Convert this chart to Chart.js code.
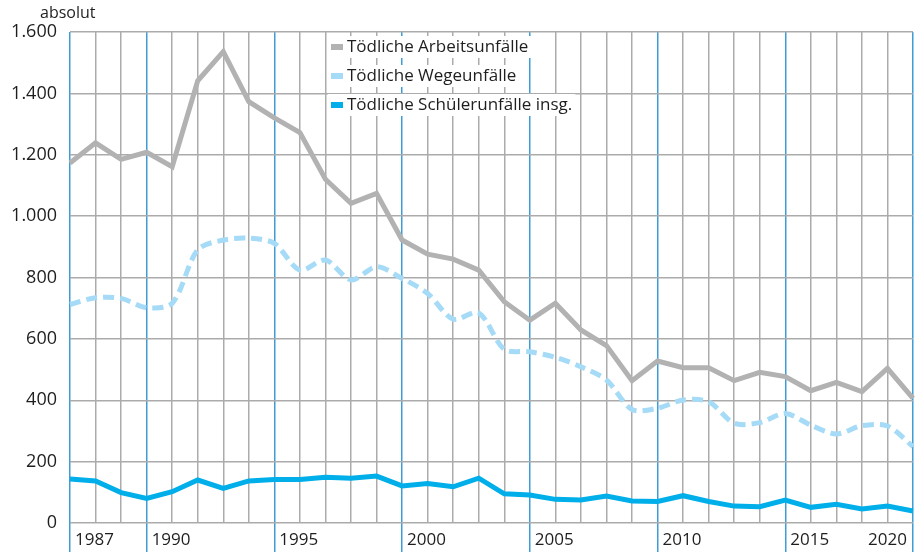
<!DOCTYPE html>
<html>
<head>
<meta charset="utf-8">
<script src="https://cdn.jsdelivr.net/npm/chart.js@4"></script>
<style>
  html, body { margin: 0; padding: 0; background: #fff; }
  #wrap { width: 921px; height: 552px; }
</style>
</head>
<body>
<div id="wrap"><canvas id="unfallChart"></canvas></div>
<script>
const years = [
  1987, 1988, 1989, 1990, 1991, 1992, 1993, 1994, 1995, 1996, 1997, 1998,
  1999, 2000, 2001, 2002, 2003, 2004, 2005, 2006, 2007, 2008, 2009, 2010,
  2011, 2012, 2013, 2014, 2015, 2016, 2017, 2018, 2019, 2020,
];

const arbeitsunfaelle = [
  1173, 1239, 1185, 1208, 1161, 1441, 1536, 1373, 1320, 1272, 1120, 1042,
  1074, 922, 876, 860, 824, 721, 661, 716, 629, 578, 464, 528,
  506, 506, 464, 491, 477, 431, 458, 428, 504, 406,
];

const wegeunfaelle = [
  712, 734, 732, 702, 716, 890, 922, 928, 911, 824, 857, 792,
  835, 797, 748, 664, 685, 566, 558, 540, 509, 466, 370, 374,
  401, 395, 325, 327, 357, 319, 290, 317, 316, 249,
];

const schuelerunfaelle = [
  143, 137, 99, 80, 102, 140, 113, 137, 142, 142, 149, 146,
  153, 121, 129, 118, 146, 95, 91, 77, 75, 88, 72, 70,
  89, 70, 55, 53, 75, 51, 61, 46, 55, 39,
];

const tick_years = [1987, 1990, 1995, 2000, 2005, 2010, 2015, 2020];

const series_labels = [
  "Tödliche Arbeitsunfälle",
  "Tödliche Wegeunfälle",
  "Tödliche Schülerunfälle insg.",
];
const series_colors = ["#b2b2b2", "#a5dbf6", "#00afe9"];

const FONT = "'Open Sans', 'Noto Sans', sans-serif";
const TEXT = "#1e1e1e";
const GRID = "#ababab";
const BLUE_LINE = "#3f9cd5";

function formatDE(v) {
  return v.toString().replace(/\B(?=(\d{3})+(?!\d))/g, ".");
}

// draws the x labels, the unit text and the legend boxes
const extrasPlugin = {
  id: "extras",
  afterDraw(chart) {
    const ctx = chart.ctx;
    const x = chart.scales.x;
    const area = chart.chartArea;
    ctx.save();
    ctx.fillStyle = TEXT;

    // unit
    ctx.font = "16px " + FONT;
    ctx.textAlign = "left";
    ctx.textBaseline = "middle";
    ctx.fillText("absolut", 40, 13);

    // year labels
    ctx.font = "17px " + FONT;
    tick_years.forEach((y, i) => {
      const px = x.getPixelForValue(years.indexOf(y));
      if (i === tick_years.length - 1) {
        ctx.textAlign = "right";
        ctx.fillText(String(y), px - 6, area.bottom + 17);
      } else {
        ctx.textAlign = "left";
        ctx.fillText(String(y), px + 5, area.bottom + 17);
      }
    });

    // legend
    ctx.font = "17px " + FONT;
    ctx.textAlign = "left";
    const lx = 330;
    let ly = 47;
    chart.data.datasets.forEach((ds, i) => {
      const w = ctx.measureText(ds.label).width;
      ctx.fillStyle = "#ffffff";
      ctx.fillRect(lx - 2, ly - 11, w + 22, 22);
      ctx.fillStyle = series_colors[i];
      ctx.fillRect(lx + 1, ly - 3, 12, 6);
      ctx.fillStyle = TEXT;
      ctx.fillText(ds.label, lx + 17, ly);
      ly += 29;
    });
    ctx.restore();
  },
};

const chart = new Chart(document.getElementById("unfallChart"), {
  type: "line",
  data: {
    labels: years.map(String),
    datasets: [
      {
        label: series_labels[0],
        data: arbeitsunfaelle,
        borderColor: series_colors[0],
        borderWidth: 5,
        pointRadius: 0,
        tension: 0,
      },
      {
        label: series_labels[1],
        data: wegeunfaelle,
        borderColor: series_colors[1],
        borderWidth: 5,
        borderDash: [11, 6],
        pointRadius: 0,
        tension: 0.3,
      },
      {
        label: series_labels[2],
        data: schuelerunfaelle,
        borderColor: series_colors[2],
        borderWidth: 5,
        pointRadius: 0,
        tension: 0,
      },
    ],
  },
  options: {
    responsive: true,
    maintainAspectRatio: false,
    animation: false,
    layout: { padding: { top: 32, right: 8, left: 0, bottom: 0 } },
    plugins: {
      legend: { display: false },
      tooltip: { enabled: false },
    },
    scales: {
      x: {
        offset: false,
        border: { display: false },
        ticks: { display: false },
        grid: {
          color: (c) =>
            tick_years.includes(years[c.index]) ? BLUE_LINE : GRID,
          lineWidth: 1.5,
          drawTicks: true,
          tickLength: 29,
          tickColor: (c) =>
            tick_years.includes(years[c.index]) ? BLUE_LINE : "rgba(0,0,0,0)",
          tickWidth: 1.5,
        },
        afterFit(scale) {
          scale.height = 29;
        },
      },
      y: {
        min: 0,
        max: 1600,
        border: { display: false },
        ticks: {
          stepSize: 200,
          padding: 13,
          color: TEXT,
          font: { family: FONT, size: 18 },
          callback: (v) => formatDE(v),
        },
        grid: {
          color: GRID,
          lineWidth: 1.5,
          drawTicks: false,
        },
        afterFit(scale) {
          scale.width = 70;
        },
      },
    },
  },
  plugins: [extrasPlugin],
});
</script>
</body>
</html>
